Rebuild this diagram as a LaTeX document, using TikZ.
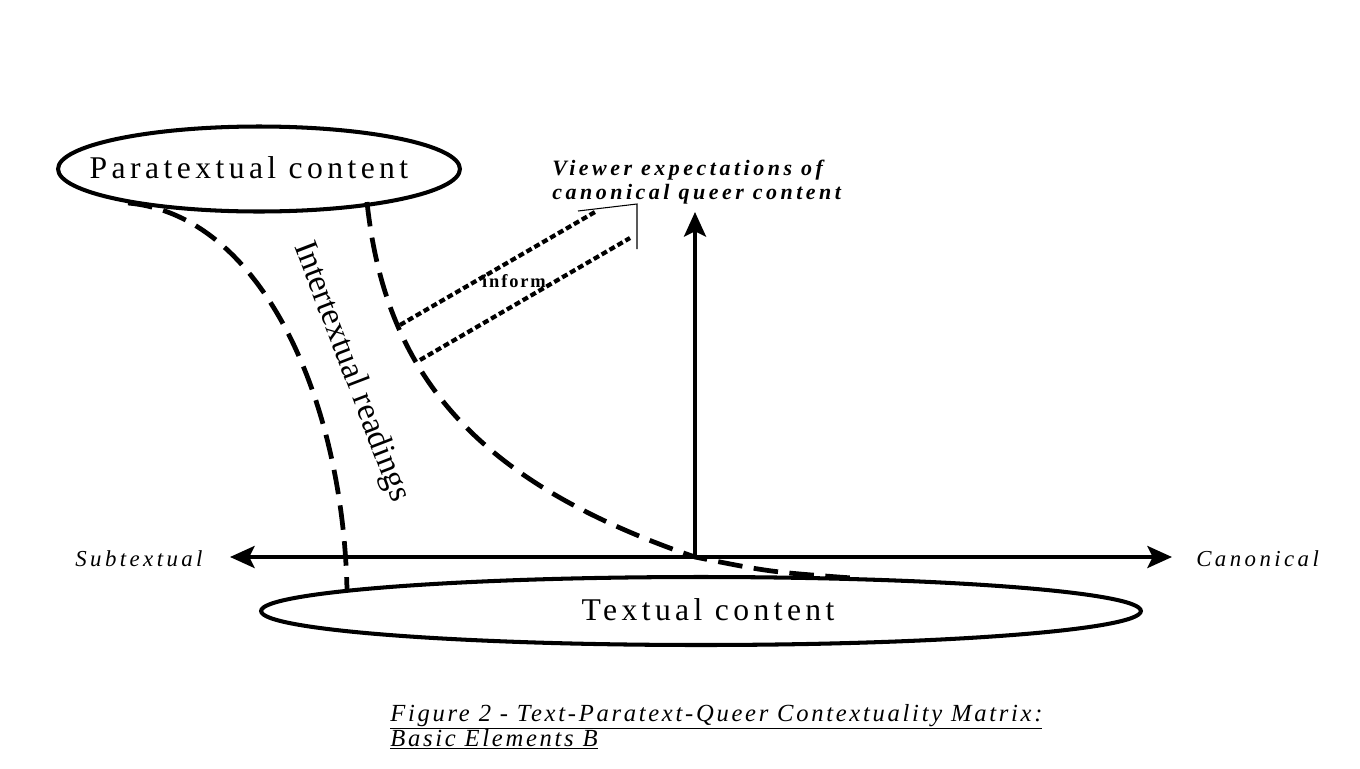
\documentclass[tikz,border=0pt]{standalone}
\usepackage{fontspec}
\setmainfont{Liberation Serif}
\newfontfamily\ellfont[LetterSpace=14]{Liberation Serif}
\newfontfamily\viewfont[LetterSpace=16]{Liberation Serif}
\newfontfamily\axfont[LetterSpace=15]{Liberation Serif}
\newfontfamily\infofont[LetterSpace=10]{Liberation Serif}
\newfontfamily\capfont[LetterSpace=11]{Liberation Serif}
\usetikzlibrary{arrows.meta,shapes.geometric}
\tikzset{
  ell/.style={draw,ellipse,line width=2.3pt,inner sep=0pt},
  elltext/.style={inner sep=0pt,font=\ellfont\fontsize{18}{21}\selectfont},
  axis/.style={line width=2.3pt,-{Stealth[length=14pt,width=12.5pt,inset=3pt]}},
  bigdash/.style={line width=2.7pt,dash pattern=on 14pt off 6.5pt},
  smalldash/.style={line width=2.4pt,dash pattern=on 3.4pt off 1.8pt},
  thin/.style={line width=0.6pt},
  axlabel/.style={font=\axfont\itshape\fontsize{13}{15}\selectfont,inner sep=0pt},
  caption/.style={anchor=base west,inner sep=0pt,font=\capfont\itshape\fontsize{14}{16}\selectfont},
}
\begin{document}
\begin{tikzpicture}[x=0.02cm,y=-0.02cm]
\useasboundingbox (0,0) rectangle (1360,768);
% ellipses
\node[ell,minimum width=8.04cm,minimum height=1.7cm] (para) at (259,169) {};
\node[elltext,anchor=base] (paratext) at (249,178) {Paratextual content};
\node[ell,minimum width=17.6cm,minimum height=1.36cm] (textc) at (701,611) {};
\node[elltext,anchor=base] (textctext) at (708,620) {Textual content};
% axes
\coordinate (O) at (695,557);
\coordinate (L) at (230,557);
\coordinate (R) at (1172,557);
\coordinate (U) at (695,212);
\draw[axis] (O) -- (L);
\draw[axis] (O) -- (R);
\draw[axis] (O) -- (U);
\node[axlabel,anchor=base west] (sub) at (75,566) {Subtextual};
\node[axlabel,anchor=base west] (can) at (1196,566) {Canonical};
% dashed curves
\coordinate (p1) at (128,203);
\coordinate (t1) at (347,590);
\coordinate (p2) at (367,202);
\coordinate (t2) at (852,578);
\draw[bigdash] (p1) .. controls (262,215) and (343,400) .. (t1);
\draw[bigdash] (p2) .. controls (385,370) and (470,480) .. (O) .. controls (770,572) .. (t2);
\node[rotate=-69,font=\fontsize{19}{22}\selectfont,inner sep=0pt] (inter) at (351,372) {Intertextual readings};
% inform lines
\coordinate (a1) at (400,325);
\coordinate (a2) at (595,212);
\coordinate (b1) at (420,360);
\coordinate (b2) at (630,238);
\draw[smalldash] (a1) -- (a2);
\draw[smalldash] (b1) -- (b2);
\coordinate (k1) at (578,211);
\coordinate (k2) at (637,204);
\coordinate (k3) at (637,249);
\draw[thin] (k1) -- (k2) -- (k3);
\node[font=\infofont\bfseries\fontsize{10.5}{12}\selectfont,inner sep=0pt] (inform) at (514,281) {inform};
% viewer text
\node[anchor=base west,inner sep=0pt,align=left,font=\viewfont\bfseries\itshape\fontsize{12.5}{13.1}\selectfont] (view) at (552,199) {Viewer expectations of\\canonical queer content};
% caption
\node[caption] (cap1) at (390,721) {\underline{Figure 2 - Text-Paratext-Queer Contextuality Matrix:}};
\node[caption] (cap2) at (390,746) {\underline{Basic Elements B}};
\end{tikzpicture}
\end{document}
